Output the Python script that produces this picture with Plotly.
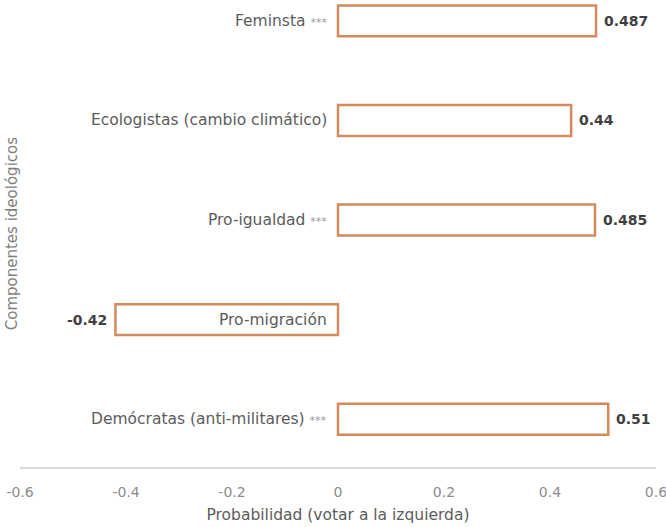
import plotly.graph_objects as go

# Ideological components (bottom to top) and their effect on voting left
componentes = [
    "Demócratas (anti-militares)",
    "Pro-migración",
    "Pro-igualdad",
    "Ecologistas (cambio climático)",
    "Feminsta",
]
significancia = ["***", "", "***", "", "***"]
probabilidad = [0.51, -0.42, 0.485, 0.44, 0.487]
etiquetas = ["0.51", "-0.42", "0.485", "0.44", "0.487"]
x_ticks = [-0.6, -0.4, -0.2, 0, 0.2, 0.4, 0.6]
x_tick_labels = ["-0.6", "-0.4", "-0.2", "0", "0.2", "0.4", "0.6"]

FONT = "'DejaVu Sans', sans-serif"
BAR_LINE = "#D38A5C"

fig = go.Figure(
    go.Bar(
        y=list(range(len(componentes))),
        x=probabilidad,
        orientation="h",
        width=0.31,
        marker=dict(color="white", line=dict(color=BAR_LINE, width=2.5)),
        cliponaxis=False,
        hoverinfo="skip",
    )
)

for i, (name, sig, val, lab) in enumerate(zip(componentes, significancia, probabilidad, etiquetas)):
    # Category name just left of the zero line
    txt = name
    if sig:
        txt += " <span style='font-size:11px;color:#9a9a9a'>" + sig + "</span>"
    fig.add_annotation(
        x=0, y=i, xref="x", yref="y",
        text=txt, showarrow=False,
        xanchor="right", yanchor="middle", xshift=-9,
        font=dict(family=FONT, size=15.5, color="#5c5c5c"),
    )
    # Value label beyond the end of the bar
    fig.add_annotation(
        x=val, y=i, xref="x", yref="y",
        text=lab, showarrow=False,
        xanchor="left" if val >= 0 else "right", yanchor="middle",
        xshift=6 if val >= 0 else -6,
        font=dict(family=FONT, size=14, color="#404040", weight="bold"),
    )

fig.add_annotation(
    x=-0.013, y=0.5, xref="paper", yref="paper",
    text="Componentes ideológicos", showarrow=False, textangle=-90,
    xanchor="center", yanchor="middle",
    font=dict(family=FONT, size=15, color="#7f7f7f"),
)

fig.update_layout(
    width=666, height=527,
    margin=dict(l=20, r=10, t=0, b=60),
    plot_bgcolor="white", paper_bgcolor="white",
    showlegend=False,
    xaxis=dict(
        range=[-0.6001, 0.6001],
        tickvals=x_ticks, ticktext=x_tick_labels,
        showgrid=False, zeroline=False,
        showline=True, linecolor="#d9d9d9", linewidth=2,
        ticks="", ticklabelstandoff=11, ticklabeloverflow="allow",
        tickfont=dict(family=FONT, size=14, color="#8c8c8c"),
        title=dict(text="Probabilidad (votar a la izquierda)", standoff=10,
                   font=dict(family=FONT, size=15.5, color="#5c5c5c")),
    ),
    yaxis=dict(
        range=[-0.48, 4.21],
        showticklabels=False, showgrid=False, zeroline=False, showline=False,
        title=None,
    ),
)

fig.write_html("out.html")
